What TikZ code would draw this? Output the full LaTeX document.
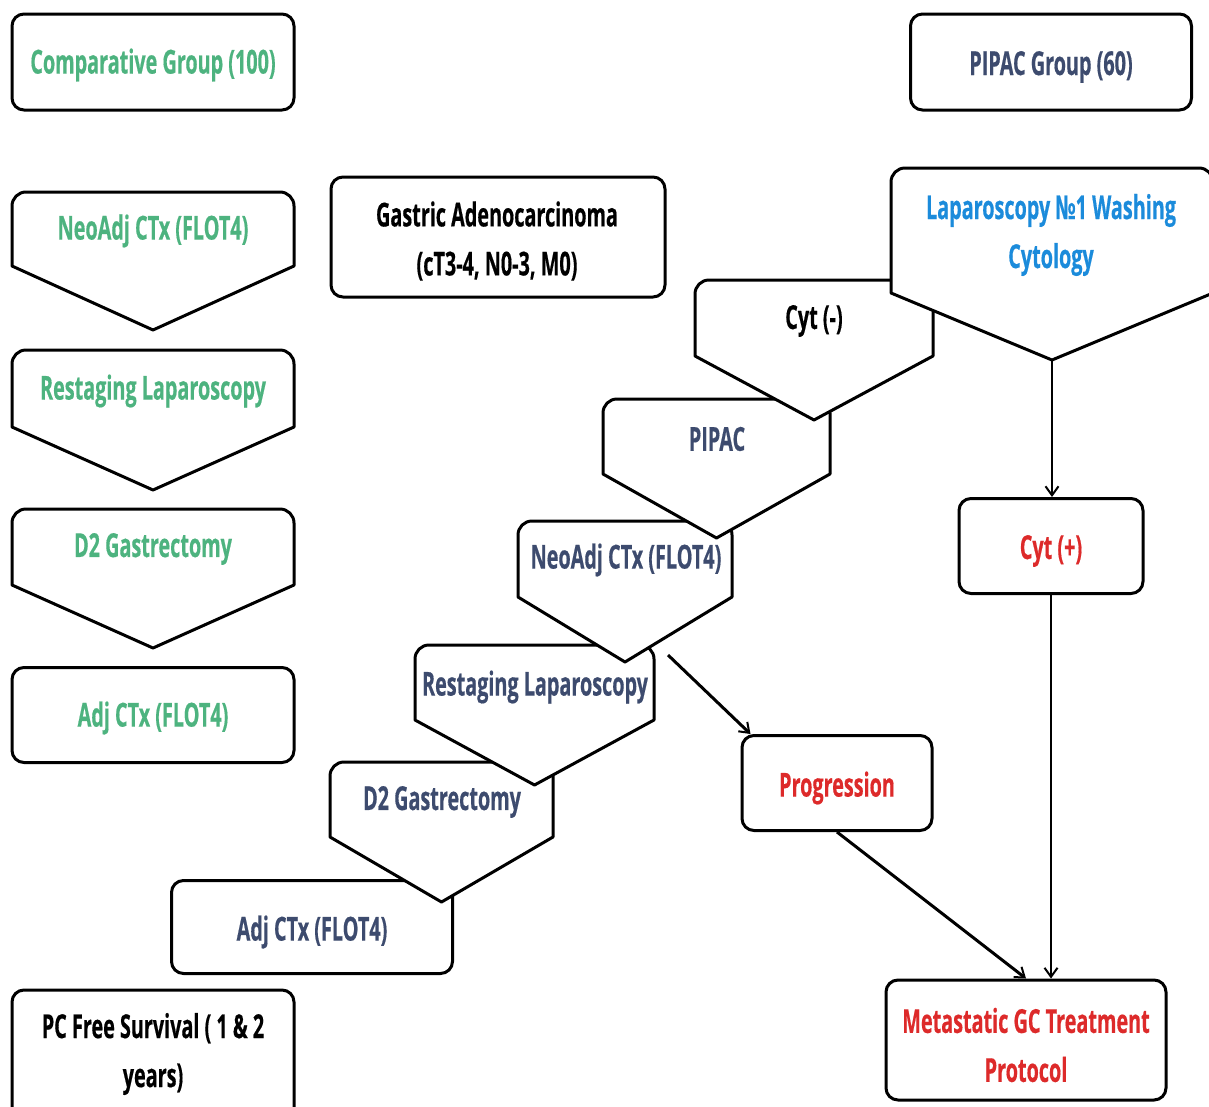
\documentclass[tikz,border=0pt]{standalone}
\usepackage{fontspec}
\setmainfont{Open Sans}[FakeStretch=0.6, BoldFeatures={FakeBold=0.4}]
\usetikzlibrary{arrows.meta}
\definecolor{cgreen}{HTML}{4DB37F}
\definecolor{cnavy}{HTML}{3D4B6E}
\definecolor{cblue}{HTML}{1B8BDB}
\definecolor{cred}{HTML}{DD2A2A}
\newcommand{\pentshape}[6]{%
  \draw[shapeline] (#2,#5) [rounded corners=14pt] -- (#2,#4) -- (#3,#4) [sharp corners] -- (#3,#5) -- ({(#2+#3)/2},#6) -- cycle;
  \coordinate (#1) at ({(#2+#3)/2},#6);}
\begin{document}
\begin{tikzpicture}[x=1pt,y=-1pt,
  shapeline/.style={line width=3pt, fill=white, line join=round},
  box/.style={draw, line width=3pt, rounded corners=12pt, fill=white, align=center, inner sep=0pt},
  txt/.style={align=center, font=\fontsize{33}{49}\selectfont\bfseries, inner sep=0pt},
  arr/.style={line width=2pt, -{Straight Barb[length=9pt,width=13pt,line width=2pt]}}]
\useasboundingbox (0,0) rectangle (1209,1106);
\fill[white] (0,0) rectangle (1209,1106);
% left column
\node[box, minimum width=282pt, minimum height=96pt] (comp) at (153,62) {};
\pentshape{lneoTip}{12}{294}{192}{266}{330}
\pentshape{lrestTip}{12}{294}{350}{427}{490}
\pentshape{ld2Tip}{12}{294}{509}{585}{648}
\node[box, minimum width=282pt, minimum height=95pt] (ladj) at (153,715) {};
\node[box, minimum width=282pt, minimum height=130pt] (pcfs) at (153,1055) {};
% top
\node[box, minimum width=334pt, minimum height=120pt] (gastric) at (498,237) {};
\node[box, minimum width=281pt, minimum height=96pt] (pipacg) at (1051,62) {};
% right boxes
\node[box, minimum width=184pt, minimum height=95pt] (cytpos) at (1051,546) {};
\node[box, minimum width=190pt, minimum height=95pt] (prog) at (837,783) {};
\node[box, minimum width=280pt, minimum height=120pt] (meta) at (1026,1040) {};
% diagonal chain (bottom first)
\node[box, minimum width=281pt, minimum height=93pt] (radj) at (312,927) {};
\pentshape{rd2Tip}{330}{553}{762}{837}{902}
\pentshape{rrestTip}{415}{654}{645}{720}{785}
\pentshape{rneoTip}{518}{732}{521}{597}{662}
\pentshape{pipacTip}{603}{830}{399}{474}{538}
\pentshape{cytnegTip}{695}{933}{280}{356}{420}
\pentshape{lapTip}{891}{1213}{168}{293}{360}
% texts
\node[txt, text=cgreen] (tcomp) at (153,65) {Comparative Group (100)};
\node[txt, text=cgreen] (tlneo) at (153,231) {NeoAdj CTx (FLOT4)};
\node[txt, text=cgreen] (tlrest) at (153,391) {Restaging Laparoscopy};
\node[txt, text=cgreen] (tld2) at (153,549) {D2 Gastrectomy};
\node[txt, text=cgreen] (tladj) at (153,718) {Adj CTx (FLOT4)};
\node[txt] (tpcfs) at (153,1054) {PC Free Survival ( 1 \& 2\\years)};
\node[txt] (tgastric) at (497,241) {Gastric Adenocarcinoma\\(cT3-4, N0-3, M0)};
\node[txt, text=cnavy] (tpipacg) at (1051,67) {PIPAC Group (60)};
\node[txt, text=cblue] (tlap) at (1051,235) {Laparoscopy №1 Washing\\Cytology};
\node[txt] (tcytneg) at (814,321) {Cyt (-)};
\node[txt, text=cnavy] (tpipac) at (717,439) {PIPAC};
\node[txt, text=cnavy] (trneo) at (626,560) {NeoAdj CTx (FLOT4)};
\node[txt, text=cnavy] (trrest) at (535,687) {Restaging Laparoscopy};
\node[txt, text=cnavy] (trd2) at (442,802) {D2 Gastrectomy};
\node[txt, text=cnavy] (tradj) at (312,932) {Adj CTx (FLOT4)};
\node[txt, text=cred] (tcytpos) at (1051,551) {Cyt (+)};
\node[txt, text=cred] (tprog) at (837,788) {Progression};
\node[txt, text=cred] (tmeta) at (1026,1045) {Metastatic GC Treatment\\Protocol};
% connectors
\coordinate (progStart) at (668,655);
\draw[arr, line width=2pt] (lapTip) -- (lapTip |- cytpos.north);
\draw[arr, line width=2pt] (cytpos.south) -- (cytpos.south |- meta.north);
\draw[arr, line width=3pt] (progStart) -- ([xshift=10pt]prog.north west);
\draw[arr, line width=3pt] (prog.south) -- (meta.north);
\end{tikzpicture}
\end{document}
